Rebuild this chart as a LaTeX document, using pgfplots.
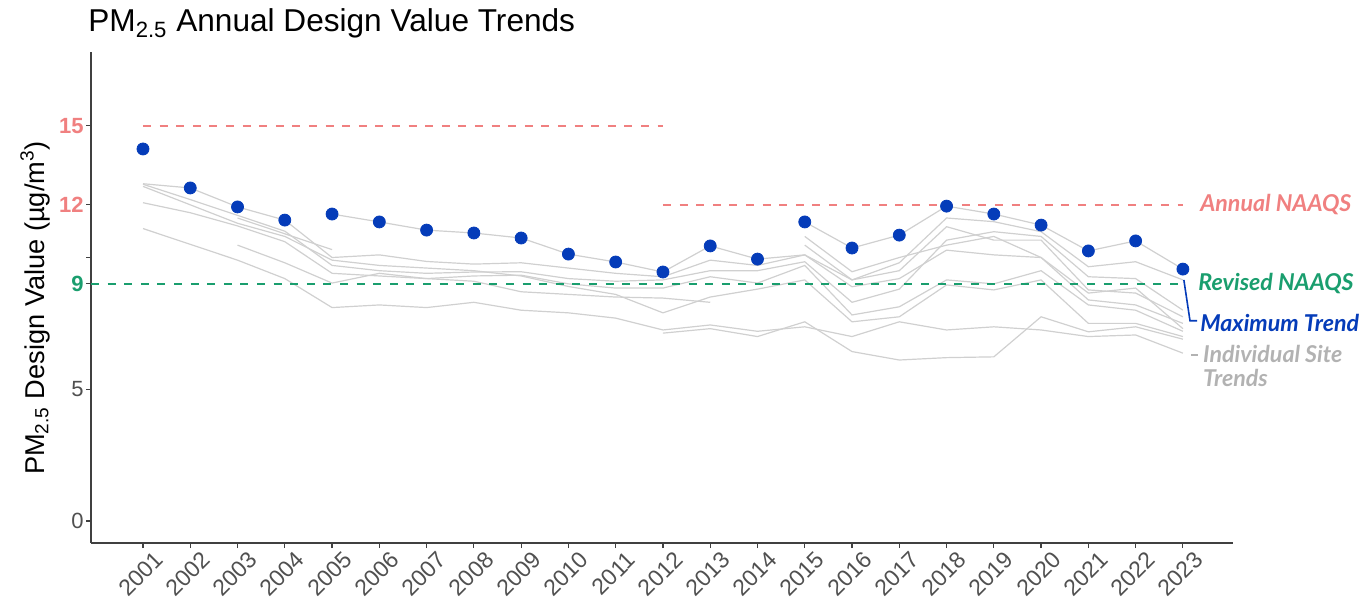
\documentclass[border=0pt]{standalone}
\usepackage{fontspec}
\setmainfont{Liberation Sans}
\newfontfamily\annfont{Lato}
\usepackage{pgfplots}
\pgfplotsset{compat=1.18}
\definecolor{salmon}{RGB}{240,128,128}
\definecolor{ngreen}{RGB}{26,158,110}
\definecolor{nblue}{RGB}{5,60,185}
\definecolor{sitegray}{RGB}{208,208,208}
\definecolor{labgray}{RGB}{80,80,80}
\definecolor{anngray}{RGB}{178,178,178}
\begin{document}
\begin{tikzpicture}
\path[use as bounding box] (0,0) rectangle (680pt,300pt);
\node[anchor=base west, inner sep=0pt, font=\fontsize{15.8pt}{18pt}\selectfont] at (44pt,284pt) {PM\textsubscript{2.5} Annual Design Value Trends};
\node[rotate=90, inner sep=0pt, font=\fontsize{13.6pt}{15pt}\selectfont] at (17.5pt,146pt) {PM\textsubscript{2.5} Design Value (µg/m\textsuperscript{3})};
\begin{axis}[
  at={(45.5pt,28.5pt)}, anchor=south west,
  scale only axis, width=571pt, height=245.5pt,
  xmin=1999.9, xmax=2024.06, ymin=-0.835, ymax=17.8,
  clip=false,
  axis x line*=bottom, axis y line*=left,
  axis line style={draw=black!75, line width=0.7pt, -},
  tick align=outside, major tick length=2.5pt,
  tick style={draw=black!75, line width=0.6pt},
  xtick={2001,2002,...,2023},
  xticklabels={2001,2002,2003,2004,2005,2006,2007,2008,2009,2010,2011,2012,2013,2014,2015,2016,2017,2018,2019,2020,2021,2022,2023},
  x tick label style={rotate=45, anchor=north east, font=\fontsize{11.5pt}{13pt}\selectfont, text=labgray, inner sep=1pt, xshift=4pt, yshift=-3pt},
  ytick={0,5,9,10,12,15},
  yticklabels={0,5,{\bfseries\color{ngreen}9},{},{\bfseries\color{salmon}12},{\bfseries\color{salmon}15}},
  y tick label style={font=\fontsize{11pt}{12pt}\selectfont, text=labgray, inner sep=1pt},
  /pgf/number format/assume math mode=true,
]
% Annual NAAQS lines
\addplot[salmon, line width=1pt, dash pattern=on 4pt off 4.3pt] coordinates {(2001,15) (2012,15)};
\addplot[salmon, line width=1pt, dash pattern=on 4pt off 4.3pt] coordinates {(2012,12) (2023,12)};
% Individual site trends
\pgfplotsset{site/.style={sitegray, line width=0.6pt, no marks}}
\addplot[site] coordinates {(2001,12.8)(2002,12.64)(2003,11.92)(2004,11.42)(2005,10.0)(2006,10.1)(2007,9.85)(2008,9.75)(2009,9.8)(2010,9.6)(2011,9.4)(2012,9.27)(2013,9.9)(2014,9.7)(2015,10.1)(2016,9.15)(2017,9.8)(2018,11.5)(2019,11.36)(2020,10.98)(2021,9.65)(2022,9.84)(2023,9.15)};
\addplot[site] coordinates {(2005,11.65)(2006,11.35)(2007,11.04)(2008,10.93)(2009,10.74)(2010,10.13)(2011,9.83)(2012,9.45)(2013,10.44)(2014,9.94)(2015,10.1)(2016,8.89)(2017,9.2)(2018,10.28)(2019,10.1)(2020,10.0)(2021,8.39)(2022,8.2)(2023,7.5)};
\addplot[site] coordinates {(2015,11.35)(2016,10.36)(2017,10.85)(2018,11.95)(2019,11.65)(2020,11.23)(2021,10.25)(2022,10.63)(2023,9.56)};
\addplot[site] coordinates {(2001,12.78)(2002,12.2)(2003,11.6)(2004,11.0)(2005,9.7)(2006,9.5)(2007,9.4)(2008,9.45)(2009,9.46)(2010,9.2)(2011,9.1)(2012,9.15)(2013,9.5)(2014,9.5)(2015,9.84)(2016,8.3)(2017,8.8)(2018,10.66)(2019,10.98)(2020,10.8)(2021,9.27)(2022,9.2)(2023,8.0)};
\addplot[site] coordinates {(2001,12.08)(2002,11.7)(2003,11.2)(2004,10.6)(2005,9.4)(2006,9.3)(2007,9.2)(2008,9.3)(2009,9.33)(2010,9.0)(2011,8.84)(2012,8.84)(2013,9.27)(2014,9.03)(2015,9.7)(2016,7.82)(2017,8.13)(2018,9.15)(2019,9.0)(2020,9.5)(2021,8.2)(2022,8.0)(2023,7.2)};
\addplot[site] coordinates {(2001,11.1)(2002,10.5)(2003,9.9)(2004,9.2)(2005,8.1)(2006,8.2)(2007,8.1)(2008,8.3)(2009,8.0)(2010,7.9)(2011,7.7)(2012,7.25)(2013,7.44)(2014,7.2)(2015,7.37)(2016,7.0)(2017,7.56)(2018,7.25)(2019,7.37)(2020,7.25)(2021,7.0)(2022,7.06)(2023,6.37)};
\addplot[site] coordinates {(2003,11.5)(2004,10.9)(2005,10.3)};
\addplot[site] coordinates {(2003,10.47)(2004,9.8)(2005,9.03)(2006,9.4)(2007,9.2)(2008,9.1)(2009,8.7)(2010,8.6)(2011,8.5)(2012,8.46)(2013,8.3)};
\addplot[site] coordinates {(2001,12.7)(2002,12.0)(2003,11.3)(2004,10.8)(2005,9.9)(2006,9.7)(2007,9.6)(2008,9.5)(2009,9.3)(2010,8.9)(2011,8.6)(2012,7.9)(2013,8.5)(2014,8.8)(2015,9.15)(2016,7.56)(2017,7.75)(2018,8.96)(2019,8.77)(2020,9.15)(2021,7.5)(2022,7.5)(2023,7.0)};
\addplot[site] coordinates {(2015,10.47)(2016,9.15)(2017,9.5)(2018,11.17)(2019,10.66)(2020,10.66)(2021,8.77)(2022,8.65)(2023,7.75)};
\addplot[site] coordinates {(2015,10.8)(2016,9.46)(2017,10.0)(2018,10.47)(2019,10.8)(2020,10.0)(2021,8.65)(2022,8.84)(2023,7.3)};
\addplot[site] coordinates {(2012,7.13)(2013,7.3)(2014,7.0)(2015,7.56)(2016,6.43)(2017,6.11)(2018,6.2)(2019,6.23)(2020,7.75)(2021,7.18)(2022,7.37)(2023,6.9)};
% Revised NAAQS
\addplot[ngreen, line width=1pt, dash pattern=on 4pt off 4.3pt] coordinates {(1999.9,9) (2023,9)};
% Maximum trend
\addplot[only marks, mark=*, mark size=3pt, nblue, mark options={draw=nblue, fill=nblue}] coordinates {
(2001,14.12)(2002,12.64)(2003,11.92)(2004,11.42)(2005,11.65)(2006,11.35)(2007,11.04)(2008,10.93)(2009,10.74)(2010,10.13)(2011,9.83)(2012,9.45)(2013,10.44)(2014,9.94)(2015,11.35)(2016,10.36)(2017,10.85)(2018,11.95)(2019,11.65)(2020,11.23)(2021,10.25)(2022,10.63)(2023,9.56)};
% annotations
\draw[nblue, line width=0.8pt] (axis cs:2023.02,9.15) -- (axis cs:2023.15,7.6) -- (axis cs:2023.3,7.6);
\draw[anngray, line width=0.8pt] (axis cs:2023.17,6.3) -- (axis cs:2023.32,6.3);
\node[anchor=west, inner sep=0pt, text=salmon, font=\annfont\bfseries\itshape\fontsize{11.6pt}{12.5pt}\selectfont] at (axis cs:2023.36,12) {Annual NAAQS};
\node[anchor=west, inner sep=0pt, text=ngreen, font=\annfont\bfseries\itshape\fontsize{11.6pt}{12.5pt}\selectfont] at (axis cs:2023.32,9) {Revised NAAQS};
\node[anchor=west, inner sep=0pt, text=nblue, font=\annfont\bfseries\itshape\fontsize{11.6pt}{12.5pt}\selectfont] at (axis cs:2023.36,7.5) {Maximum Trend};
\node[anchor=north west, inner sep=0pt, align=left, text=anngray, font=\annfont\bfseries\itshape\fontsize{11.6pt}{12.2pt}\selectfont] at (axis cs:2023.42,6.7) {Individual Site\\Trends};
\end{axis}
\end{tikzpicture}
\end{document}
